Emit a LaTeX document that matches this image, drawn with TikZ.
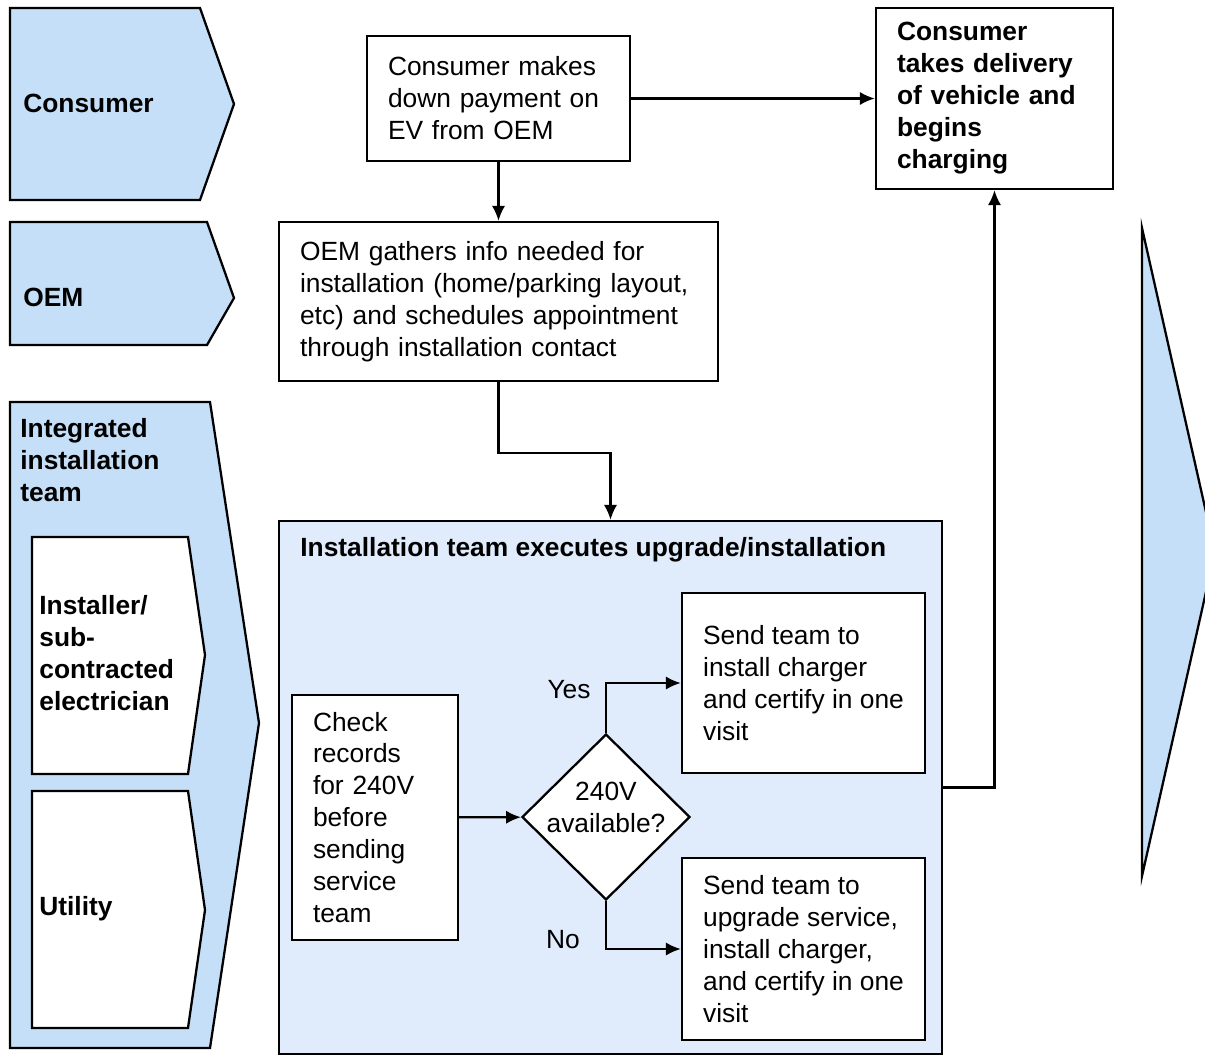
\documentclass[tikz,border=0pt]{standalone}
\usepackage{fontspec}
\setmainfont{Liberation Sans}
\usetikzlibrary{arrows.meta,shapes.geometric}

\definecolor{lanefill}{HTML}{C6DFF8}
\definecolor{groupfill}{HTML}{E0ECFB}

\tikzset{
  every node/.style={font=\fontsize{15}{18.2}\selectfont},
  lane/.style={draw=black,line width=1.3pt,fill=lanefill,line join=miter},
  sublane/.style={draw=black,line width=1.3pt,fill=white},
  lanelabel/.style={anchor=west,inner sep=0pt,align=left,font=\fontsize{15}{18.2}\selectfont\bfseries},
  stepbox/.style={draw=black,line width=1.3pt,fill=white,align=left,inner xsep=0.42cm,anchor=center},
  arr/.style={line width=1.3pt,-{Latex[length=8.5pt,width=7.5pt]}}
}

\begin{document}
\begin{tikzpicture}[x=0.02cm,y=-0.02cm]
    \useasboundingbox (0,0) rectangle (1205,1056);

    % lanes on the left
    \draw[lane] (10,8) -- (200,8) -- (234,104) -- (200,200) -- (10,200) -- cycle;
    \draw[lane] (10,222) -- (207,222) -- (234,298) -- (207,345) -- (10,345) -- cycle;
    \draw[lane] (10,402) -- (210,402) -- (259,723) -- (210,1048) -- (10,1048) -- cycle;
    \draw[sublane] (32,537) -- (188,537) -- (205,655) -- (188,774) -- (32,774) -- cycle;
    \draw[sublane] (32,791) -- (188,791) -- (205,910) -- (188,1028) -- (32,1028) -- cycle;
    \node[lanelabel] (lconsumer) at (23,103) {Consumer};
    \node[lanelabel] (loem) at (23,297) {OEM};
    \node[lanelabel,anchor=north west] (lteam) at (20,418) {Integrated\\installation\\team};
    \node[lanelabel] (linstaller) at (39,653) {Installer/\\sub-\\contracted\\electrician};
    \node[lanelabel] (lutility) at (39,909) {Utility};

    % lane on the right
    \draw[lane] (1142,228) -- (1215,552) -- (1142,876) -- cycle;

    % steps
    \node[stepbox,minimum width=5.26cm,text width=4.42cm,minimum height=2.5cm] (pay) at (498.5,98.5)
      {Consumer makes\\down payment on\\EV from OEM};
    \node[stepbox,minimum width=4.74cm,text width=3.9cm,minimum height=3.62cm,font=\fontsize{15}{18.2}\selectfont\bfseries] (deliver) at (994.5,98.5)
      {Consumer\\takes delivery\\of vehicle and\\begins\\charging};
    \node[stepbox,minimum width=8.78cm,text width=7.94cm,minimum height=3.18cm] (gather) at (498.5,301.5)
      {OEM gathers info needed for\\installation (home/parking layout,\\etc) and schedules appointment\\through installation contact};

    % installation group
    \node[draw=black,line width=1.3pt,fill=groupfill,minimum width=13.26cm,minimum height=10.66cm] (install) at (610.5,787.5) {};
    \node[anchor=west,inner sep=0pt,font=\fontsize{15}{18.2}\selectfont\bfseries] (insttitle) at (300,550)
      {Installation team executes upgrade/installation};

    \node[stepbox,minimum width=3.32cm,text width=2.48cm,minimum height=4.9cm] (check) at (375,817.5)
      {Check\\records\\for 240V\\before\\sending\\service\\team};
    \node[diamond,draw=black,line width=1.3pt,fill=white,minimum width=3.36cm,minimum height=3.32cm,inner sep=0pt,
      label={[align=center,yshift=0.2cm]center:240V\\available?}] (avail) at (606,817) {};
    \node[stepbox,minimum width=4.86cm,minimum height=3.6cm] (onevisit) at (803.5,683)
      {Send team to\\install charger\\and certify in one\\visit};
    \node[stepbox,minimum width=4.86cm,minimum height=3.64cm] (upgrade) at (803.5,949)
      {Send team to\\upgrade service,\\install charger,\\and certify in one\\visit};
    \node[inner sep=0pt] (yes) at (569,690) {Yes};
    \node[inner sep=0pt] (no) at (563,940) {No};

    % connectors
    \draw[arr] (pay) -- (deliver);
    \draw[arr] (pay) -- (gather);
    \draw[arr] (gather.south) -- ++(0,71) -| (install.north);
    \draw[arr] (check) -- (avail);
    \draw[arr] (avail.north) |- (onevisit.west);
    \draw[arr] (avail.south) |- (upgrade.west);
    \draw[arr] (install.east) -| (deliver.south);
\end{tikzpicture}
\end{document}
